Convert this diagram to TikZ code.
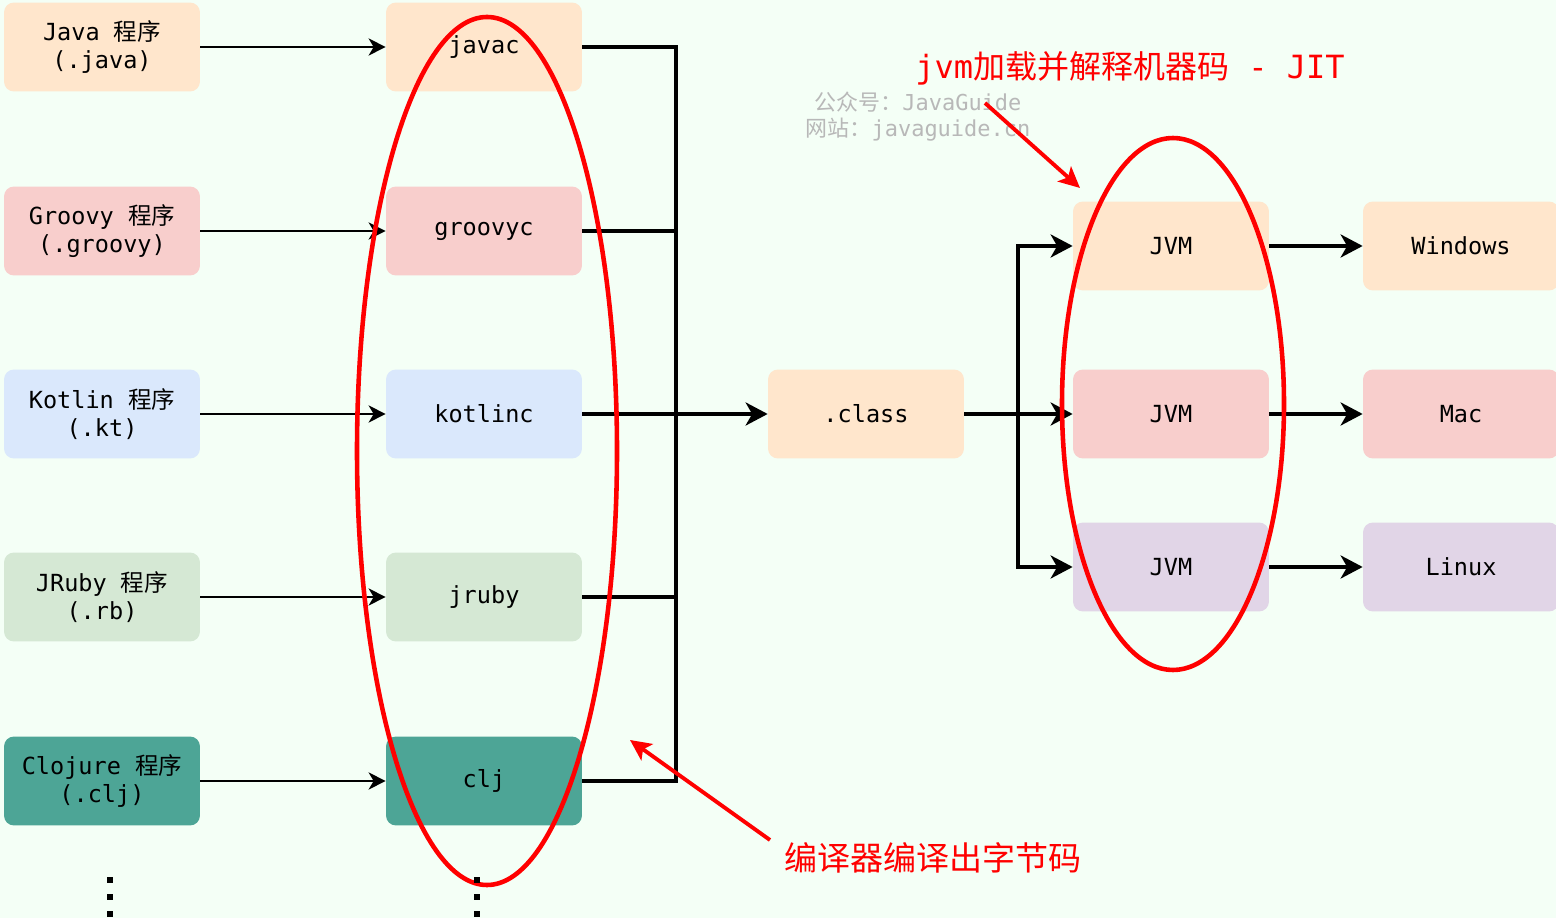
\documentclass[tikz,border=0pt]{standalone}
\usepackage{fontspec}
\setmonofont{DejaVu Sans Mono}
\newfontfamily\cjk{Noto Sans CJK SC}
\usetikzlibrary{arrows.meta}
\definecolor{bgc}{HTML}{F4FFF6}
\definecolor{corange}{HTML}{FFE6CC}
\definecolor{cred}{HTML}{F8CECC}
\definecolor{cblue}{HTML}{DAE8FC}
\definecolor{cgreen}{HTML}{D5E8D4}
\definecolor{cteal}{HTML}{4DA596}
\definecolor{cpurple}{HTML}{E1D5E7}
\definecolor{wmgray}{HTML}{B8B8B8}
\definecolor{annred}{HTML}{FF0000}
\tikzset{
  box/.style={rounded corners=0.2cm, minimum width=3.92cm, minimum height=1.78cm,
    inner sep=0pt, align=center, font=\ttfamily\fontsize{13.4}{16}\selectfont},
  thinarr/.style={line width=1.6pt, -{Stealth[length=3.4mm,width=3.4mm,inset=1mm]}},
  conn/.style={line width=2.2pt},
  arr/.style={line width=2.2pt, -{Stealth[length=4.4mm,width=4.6mm,inset=1.3mm]}},
  redloop/.style={draw=annred, line width=2.6pt},
  redarr/.style={draw=annred, line width=2.2pt, -{Stealth[length=4.2mm,width=4mm,inset=1mm]}, annred},
  redtext/.style={text=annred, inner sep=0pt},
  dotmark/.style={fill=black, minimum size=3.5pt, inner sep=0pt, draw=none}
}
\begin{document}
\begin{tikzpicture}[x=0.02cm,y=-0.02cm]
\fill[bgc] (0,0) rectangle (1556,918);
\useasboundingbox (0,0) rectangle (1556,918);

% left column
\node[box, fill=corange] (java) at (102,47) {Java {\cjk 程序}\\(.java)};
\node[box, fill=cred] (groovy) at (102,231) {Groovy {\cjk 程序}\\(.groovy)};
\node[box, fill=cblue] (kotlin) at (102,414) {Kotlin {\cjk 程序}\\(.kt)};
\node[box, fill=cgreen] (jruby) at (102,597) {JRuby {\cjk 程序}\\(.rb)};
\node[box, fill=cteal] (clojure) at (102,781) {Clojure {\cjk 程序}\\(.clj)};

% compilers
\node[box, fill=corange] (javac) at (484,47) {javac};
\node[box, fill=cred] (groovyc) at (484,231) {groovyc};
\node[box, fill=cblue] (kotlinc) at (484,414) {kotlinc};
\node[box, fill=cgreen] (jrubyc) at (484,597) {jruby};
\node[box, fill=cteal] (clj) at (484,781) {clj};

% class
\node[box, fill=corange] (class) at (866,414) {.class};

% JVMs
\node[box, fill=corange] (jvm1) at (1171,246) {JVM};
\node[box, fill=cred] (jvm2) at (1171,414) {JVM};
\node[box, fill=cpurple] (jvm3) at (1171,567) {JVM};

% OS
\node[box, fill=corange] (win) at (1461,246) {Windows};
\node[box, fill=cred] (mac) at (1461,414) {Mac};
\node[box, fill=cpurple] (linux) at (1461,567) {Linux};

% source -> compiler
\draw[thinarr] (java) -- (javac);
\draw[thinarr] (groovy) -- (groovyc);
\draw[thinarr] (kotlin) -- (kotlinc);
\draw[thinarr] (jruby) -- (jrubyc);
\draw[thinarr] (clojure) -- (clj);

% bus
\coordinate (bt) at (676,47);
\coordinate (bb) at (676,781);
\draw[conn] (javac.east) -- (bt) -- (bb) -- (clj.east);
\draw[conn] (groovyc.east) -- (groovyc.east -| bt);
\draw[conn] (jrubyc.east) -- (jrubyc.east -| bt);
\draw[arr] (kotlinc.east) -- (class.west);

% split to JVMs
\coordinate (sp) at (1018,414);
\draw[arr] (class.east) -- (jvm2.west);
\draw[arr] (sp |- jvm3.west) -- (sp |- jvm1.west) -- (jvm1.west);
\draw[arr] (sp) -- (sp |- jvm3.west) -- (jvm3.west);

% JVM -> OS
\draw[arr] (jvm1) -- (win);
\draw[arr] (jvm2) -- (mac);
\draw[arr] (jvm3) -- (linux);

% watermark
\node[text=wmgray, font=\ttfamily\fontsize{12.5}{15}\selectfont, inner sep=0pt] (wm1) at (918,102) {{\cjk 公众号：}JavaGuide};
\node[text=wmgray, font=\ttfamily\fontsize{12.5}{15}\selectfont, inner sep=0pt] (wm2) at (918,130) {{\cjk 网站：}javaguide.cn};

% red annotations
\draw[redloop] (487,451) ellipse [x radius=130, y radius=434];
\draw[redloop] (1173,404) ellipse [x radius=111, y radius=266];

\node[redtext, font=\ttfamily\fontsize{18.2}{22}\selectfont] (jit) at (1130,68) {jvm{\cjk 加载并解释机器码} - JIT};
\node[redtext, font=\cjk\fontsize{18.8}{22}\selectfont] (cmp) at (933,858) {编译器编译出字节码};

\coordinate (r1s) at (985,103);
\coordinate (r1e) at (1080,188);
\draw[redarr] (r1s) -- (r1e);
\coordinate (r2s) at (770,840);
\coordinate (r2e) at (630,740);
\draw[redarr] (r2s) -- (r2e);

% continuation dots
\foreach \y [count=\i] in {880,897,914} {
  \node[dotmark] (dl\i) at (110,\y) {};
  \node[dotmark] (dr\i) at (477,\y) {};
}
\end{tikzpicture}
\end{document}
